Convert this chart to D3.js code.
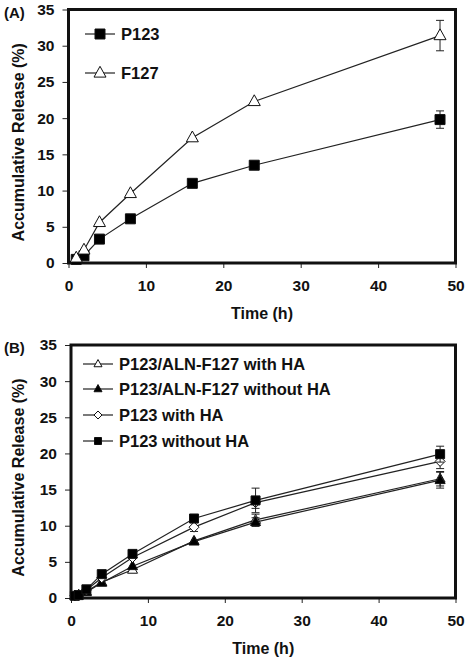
<!DOCTYPE html>
<html><head><meta charset="utf-8">
<script src="https://cdn.jsdelivr.net/npm/d3@7"></script>
<style>body{margin:0;background:#fff}svg{display:block}text{font-family:"Liberation Sans",Arial,sans-serif;font-weight:bold;fill:#111}</style>
</head><body>
<script>
// Panel A data
const timesA = [1, 2, 4, 8, 16, 24, 48];
const p123A = [0.5, 1.0, 3.3, 6.1, 11.0, 13.5, 19.8];
const p123AErr = [0, 0, 0, 0, 0, 0, 1.2];
const f127A = [0.7, 1.8, 5.6, 9.6, 17.3, 22.3, 31.4];
const f127AErr = [0, 0, 0, 0, 0, 0, 2.1];
// Panel B data
const timesB = [0.5, 1, 2, 4, 8, 16, 24, 48];
const alnWithHA = [0.3, 0.4, 0.9, 2.2, 3.9, 7.9, 10.8, 16.5];
const alnWithHAErr = [0, 0, 0, 0, 0, 0, 0.8, 1.0];
const alnWithoutHA = [0.3, 0.4, 0.8, 2.1, 4.4, 7.8, 10.5, 16.3];
const alnWithoutHAErr = [0, 0, 0, 0, 0, 0, 0.6, 1.1];
const p123WithHA = [0.3, 0.4, 1.1, 2.8, 5.6, 9.8, 13.2, 18.9];
const p123WithHAErr = [0, 0, 0, 0, 0, 0.6, 0.8, 1.0];
const p123WithoutHA = [0.3, 0.4, 1.2, 3.3, 6.1, 11.0, 13.5, 19.9];
const p123WithoutHAErr = [0, 0, 0, 0, 0, 0, 1.7, 1.1];
const xTicks = [0, 10, 20, 30, 40, 50];
const yTicks = [0, 5, 10, 15, 20, 25, 30, 35];
const xTitle = "Time (h)";
const yTitle = "Accumulative Release (%)";

const W = 468, H = 663;
const svg = d3.select("body").append("svg").attr("width", W).attr("height", H);

function symbolPath(shape, size) {
  const s = size;
  if (shape === "square") return `M${-s/2},${-s/2}h${s}v${s}h${-s}Z`;
  if (shape === "triangle") { const h = s*0.9; return `M0,${-h*0.62}L${s/2},${h*0.38}L${-s/2},${h*0.38}Z`; }
  if (shape === "diamond") return `M0,${-s/2}L${s/2},0L0,${s/2}L${-s/2},0Z`;
}

function panel(cfg) {
  const g = svg.append("g");
  const x = d3.scaleLinear().domain([0, 50]).range([cfg.left, cfg.right]);
  const y = d3.scaleLinear().domain([0, 35]).range([cfg.bottom, cfg.top]);

  const xAxis = g.append("g").attr("transform", `translate(0,${cfg.bottom})`)
    .call(d3.axisBottom(x).tickValues(xTicks).tickSize(5).tickPadding(12).tickFormat(d3.format("d")));
  const yAxis = g.append("g").attr("transform", `translate(${cfg.left},0)`)
    .call(d3.axisLeft(y).tickValues(yTicks).tickSize(6).tickPadding(8).tickFormat(d3.format("d")));
  [xAxis, yAxis].forEach(a => {
    a.select(".domain").remove();
    a.selectAll(".tick line").attr("stroke", "#222").attr("stroke-width", 1);
    a.selectAll(".tick text").style("font-size", "15.5px").attr("fill", "#111");
  });

  g.append("rect").attr("x", cfg.left).attr("y", cfg.top)
    .attr("width", cfg.right - cfg.left).attr("height", cfg.bottom - cfg.top)
    .attr("fill", "none").attr("stroke", "#111").attr("stroke-width", 3);

  g.append("text").attr("x", (cfg.left + cfg.right) / 2).attr("y", cfg.bottom + 56)
    .attr("text-anchor", "middle").style("font-size", "16px").text(xTitle);
  g.append("text").attr("transform", `translate(24,${(cfg.top + cfg.bottom) / 2 + 6}) rotate(-90)`)
    .attr("text-anchor", "middle").style("font-size", "16px").text(yTitle);
  g.append("text").attr("x", 4).attr("y", cfg.top + 8).style("font-size", "15px").text(cfg.label);

  const line = d3.line().x(d => x(d[0])).y(d => y(d[1]));
  cfg.series.forEach(s => {
    const pts = cfg.times.map((t, i) => [t, s.values[i], s.err[i]]);
    g.append("path").datum(pts).attr("d", line).attr("fill", "none")
      .attr("stroke", "#222").attr("stroke-width", 1.2);
    pts.filter(p => p[2] > 0).forEach(p => {
      const cx = x(p[0]), y1 = y(p[1] + p[2]), y0 = y(p[1] - p[2]);
      g.append("path").attr("d", `M${cx},${y0}V${y1}M${cx-4},${y1}H${cx+4}M${cx-4},${y0}H${cx+4}`)
        .attr("stroke", "#222").attr("stroke-width", 1).attr("fill", "none");
    });
    g.selectAll(null).data(pts).enter().append("path")
      .attr("transform", p => `translate(${x(p[0])},${y(p[1])})`)
      .attr("d", symbolPath(s.shape, s.size))
      .attr("fill", s.fill ? "#000" : "#fff").attr("stroke", "#111").attr("stroke-width", 1);
  });

  cfg.series.forEach((s, i) => {
    const ly = cfg.legendY[i];
    g.append("line").attr("x1", cfg.legendX).attr("x2", cfg.legendX + 30)
      .attr("y1", ly).attr("y2", ly).attr("stroke", "#222").attr("stroke-width", 1.2);
    g.append("path").attr("transform", `translate(${cfg.legendX + 15},${ly})`)
      .attr("d", symbolPath(s.shape, s.legendSize))
      .attr("fill", s.fill ? "#000" : "#fff").attr("stroke", "#111").attr("stroke-width", 1);
    g.append("text").attr("x", cfg.legendX + 36).attr("y", ly + 6)
      .style("font-size", "16.5px").text(s.name);
  });
}

panel({
  label: "(A)", left: 68.5, right: 455.5, top: 9.5, bottom: 263,
  times: timesA, legendX: 85, legendY: [34, 73],
  series: [
    { name: "P123", values: p123A, err: p123AErr, shape: "square", fill: true, size: 10, legendSize: 10 },
    { name: "F127", values: f127A, err: f127AErr, shape: "triangle", fill: false, size: 12, legendSize: 12 }
  ]
});

panel({
  label: "(B)", left: 71, right: 455.5, top: 345, bottom: 598,
  times: timesB, legendX: 83, legendY: [364, 389, 415, 441],
  series: [
    { name: "P123/ALN-F127 with HA", values: alnWithHA, err: alnWithHAErr, shape: "triangle", fill: false, size: 10, legendSize: 8 },
    { name: "P123/ALN-F127 without HA", values: alnWithoutHA, err: alnWithoutHAErr, shape: "triangle", fill: true, size: 10, legendSize: 8 },
    { name: "P123 with HA", values: p123WithHA, err: p123WithHAErr, shape: "diamond", fill: false, size: 10, legendSize: 8 },
    { name: "P123 without HA", values: p123WithoutHA, err: p123WithoutHAErr, shape: "square", fill: true, size: 9, legendSize: 7 }
  ]
});
</script>
</body></html>
